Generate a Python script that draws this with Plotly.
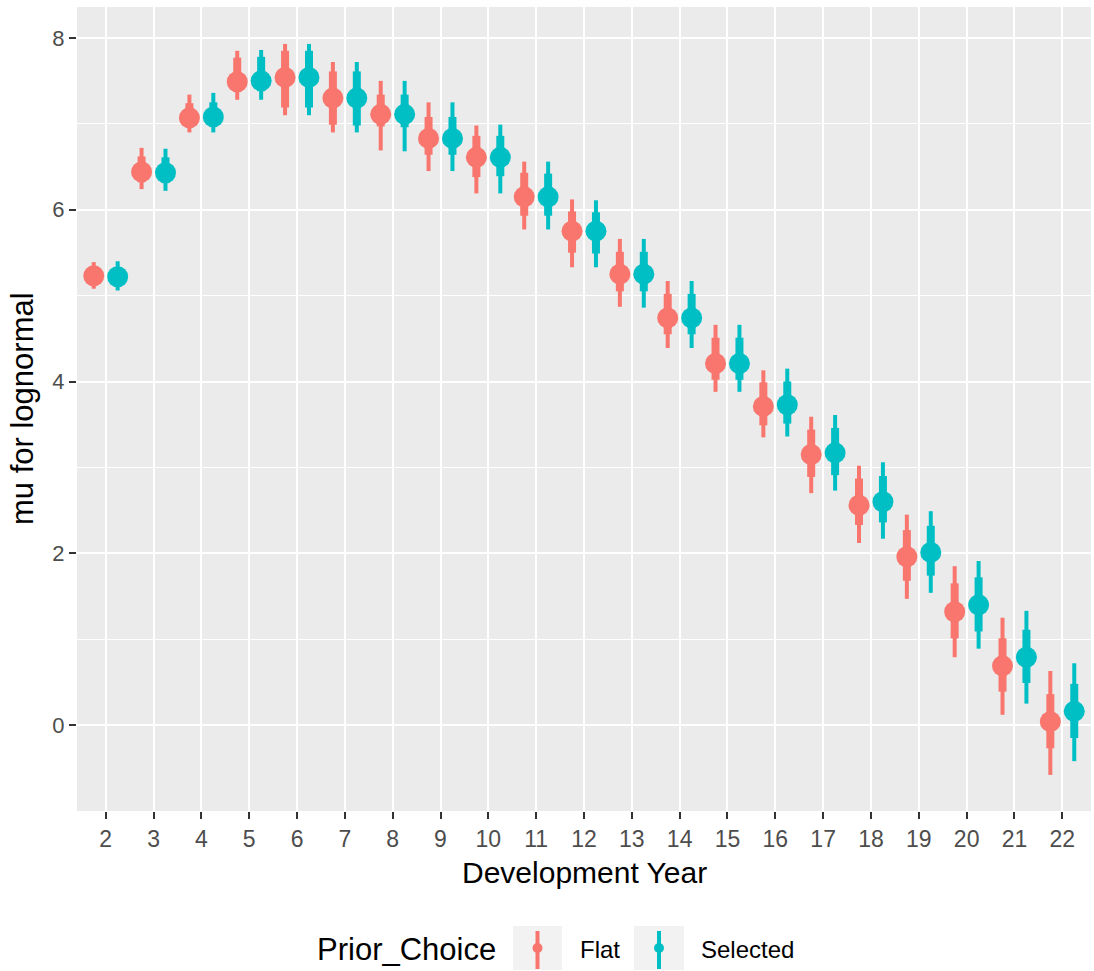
import plotly.graph_objects as go

years = list(range(2, 23))

flat_med = [5.23, 6.44, 7.07, 7.49, 7.54, 7.30, 7.11, 6.83, 6.61, 6.15, 5.75, 5.25, 4.74, 4.21, 3.71, 3.15, 2.56, 1.96, 1.32, 0.69, 0.04]
flat_lo95 = [5.08, 6.24, 6.90, 7.28, 7.10, 6.90, 6.69, 6.45, 6.19, 5.77, 5.33, 4.87, 4.39, 3.88, 3.35, 2.70, 2.12, 1.47, 0.79, 0.12, -0.58]
flat_hi95 = [5.39, 6.72, 7.34, 7.85, 7.93, 7.72, 7.50, 7.25, 6.98, 6.56, 6.12, 5.66, 5.17, 4.66, 4.13, 3.59, 3.02, 2.45, 1.85, 1.25, 0.63]
flat_lo66 = [5.15, 6.32, 6.97, 7.37, 7.19, 6.99, 6.97, 6.64, 6.38, 5.93, 5.50, 5.05, 4.55, 4.02, 3.49, 2.89, 2.33, 1.68, 1.01, 0.39, -0.27]
flat_hi66 = [5.31, 6.62, 7.24, 7.77, 7.85, 7.61, 7.34, 7.08, 6.86, 6.43, 5.98, 5.51, 5.02, 4.51, 3.99, 3.44, 2.87, 2.27, 1.65, 1.01, 0.36]

sel_med = [5.22, 6.43, 7.08, 7.50, 7.54, 7.30, 7.11, 6.83, 6.61, 6.15, 5.75, 5.25, 4.74, 4.21, 3.73, 3.17, 2.60, 2.01, 1.40, 0.79, 0.16]
sel_lo95 = [5.06, 6.22, 6.90, 7.28, 7.10, 6.90, 6.68, 6.45, 6.19, 5.77, 5.33, 4.86, 4.39, 3.88, 3.36, 2.73, 2.17, 1.54, 0.89, 0.25, -0.42]
sel_hi95 = [5.40, 6.71, 7.36, 7.86, 7.93, 7.72, 7.50, 7.25, 6.99, 6.56, 6.11, 5.66, 5.17, 4.66, 4.15, 3.61, 3.06, 2.49, 1.91, 1.33, 0.72]
sel_lo66 = [5.14, 6.31, 6.97, 7.38, 7.19, 6.98, 6.96, 6.64, 6.39, 5.93, 5.49, 5.05, 4.55, 4.02, 3.51, 2.91, 2.36, 1.74, 1.09, 0.49, -0.15]
sel_hi66 = [5.31, 6.61, 7.25, 7.78, 7.85, 7.61, 7.34, 7.08, 6.86, 6.42, 5.97, 5.51, 5.02, 4.51, 4.00, 3.46, 2.90, 2.32, 1.72, 1.11, 0.48]

series_names = ["Flat", "Selected"]
colors = ["#F8766D", "#00BFC4"]
dodge = [-0.25, 0.25]

FONT = "Liberation Sans, Arial, sans-serif"

fig = go.Figure()


def segs(xs, lo, hi):
    X, Y = [], []
    for x, a, b in zip(xs, lo, hi):
        X += [x, x, None]
        Y += [a, b, None]
    return X, Y


all_series = [
    (flat_med, flat_lo95, flat_hi95, flat_lo66, flat_hi66),
    (sel_med, sel_lo95, sel_hi95, sel_lo66, sel_hi66),
]

for name, col, dx, (med, lo95, hi95, lo66, hi66) in zip(series_names, colors, dodge, all_series):
    xs = [y + dx for y in years]
    X, Y = segs(xs, lo95, hi95)
    fig.add_trace(go.Scatter(x=X, y=Y, mode="lines", line=dict(color=col, width=4),
                             showlegend=False, hoverinfo="skip"))
    X, Y = segs(xs, lo66, hi66)
    fig.add_trace(go.Scatter(x=X, y=Y, mode="lines", line=dict(color=col, width=8),
                             showlegend=False, hoverinfo="skip"))
    fig.add_trace(go.Scatter(x=xs, y=med, mode="markers", name=name,
                             marker=dict(color=col, size=21, line=dict(width=0)),
                             showlegend=False))

# layout geometry (pixels)
W, H = 1094, 971
L, R, T, B = 77, 3, 7, 160
pw = W - L - R
ph = H - T - B


def px(x):
    return (x - L) / pw


def py(y):
    return (H - B - y) / ph


fig.update_layout(
    width=W, height=H,
    margin=dict(l=L, r=R, t=T, b=B),
    paper_bgcolor="white",
    plot_bgcolor="#EBEBEB",
    font=dict(family=FONT, color="#4D4D4D"),
    showlegend=False,
    xaxis=dict(
        range=[1.4, 22.6], tickmode="array", tickvals=years, ticktext=[str(y) for y in years],
        showgrid=True, gridcolor="white", gridwidth=2, zeroline=False,
        ticks="outside", ticklen=7, tickwidth=2, tickcolor="#333333",
        tickfont=dict(size=23, color="#4D4D4D", family=FONT), showline=False,
    ),
    yaxis=dict(
        range=[-1.0, 8.36], tickmode="array", tickvals=[0, 2, 4, 6, 8],
        showgrid=True, gridcolor="white", gridwidth=2, zeroline=False,
        ticks="outside", ticklen=7, tickwidth=2, tickcolor="#333333",
        tickfont=dict(size=22, color="#4D4D4D", family=FONT), showline=False,
        minor=dict(tickmode="array", tickvals=[1, 3, 5, 7], showgrid=True,
                   gridcolor="white", gridwidth=1, ticks=""),
    ),
)

annotations = [
    dict(text="Development Year", xref="paper", yref="paper", x=0.5, y=py(872),
         xanchor="center", yanchor="middle", showarrow=False,
         font=dict(size=30, color="black", family=FONT)),
    dict(text="mu for lognormal", xref="paper", yref="paper", x=px(22), y=0.5,
         xanchor="center", yanchor="middle", showarrow=False, textangle=-90,
         font=dict(size=31, color="black", family=FONT)),
    dict(text="Prior_Choice", xref="paper", yref="paper", x=px(315), y=py(949),
         xanchor="left", yanchor="middle", showarrow=False,
         font=dict(size=31, color="black", family=FONT)),
]

shapes = []
key_boxes = [(513, 562), (634, 684)]
label_x = [578, 699]
for (x0, x1), lx, name, col in zip(key_boxes, label_x, series_names, colors):
    shapes.append(dict(type="rect", xref="paper", yref="paper", x0=px(x0), x1=px(x1),
                       y0=py(970), y1=py(926), fillcolor="#F2F2F2", line=dict(width=0), layer="above"))
    cx = (x0 + x1) / 2
    shapes.append(dict(type="line", xref="paper", yref="paper", x0=px(cx), x1=px(cx),
                       y0=py(969), y1=py(931), line=dict(color=col, width=4), layer="above"))
    shapes.append(dict(type="circle", xref="paper", yref="paper", x0=px(cx - 5), x1=px(cx + 5),
                       y0=py(953), y1=py(943), fillcolor=col, line=dict(width=0), layer="above"))
    annotations.append(dict(text=name, xref="paper", yref="paper", x=px(lx), y=py(949),
                            xanchor="left", yanchor="middle", showarrow=False,
                            font=dict(size=24, color="black", family=FONT)))

fig.update_layout(annotations=annotations, shapes=shapes)

fig.write_html("out.html")
